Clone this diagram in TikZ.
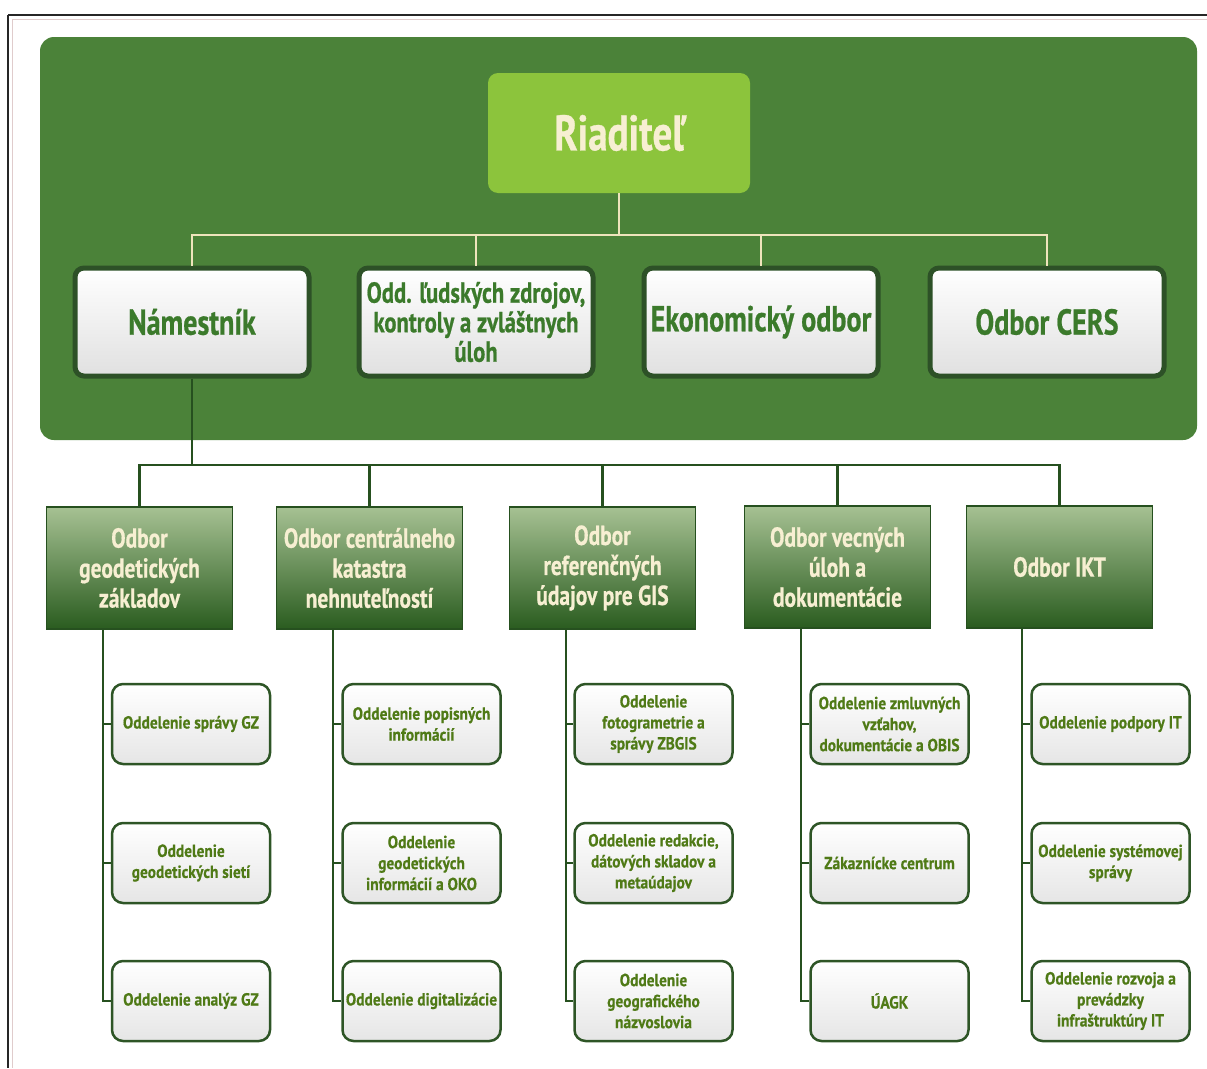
\documentclass[tikz,border=0pt]{standalone}
\usepackage{fontspec}
\setmainfont{PT Sans}
\newfontfamily\condfont[FakeStretch=0.78, BoldFeatures={FakeBold=0.6}]{PT Sans}
\newfontfamily\childfont[FakeStretch=0.88, BoldFeatures={FakeBold=0.5}]{PT Sans}
\usetikzlibrary{calc}
\definecolor{panelgreen}{HTML}{4B8239}
\definecolor{topgreen}{HTML}{8CC43C}
\definecolor{cream}{HTML}{F7EFD2}
\definecolor{creamline}{HTML}{EFE4BC}
\definecolor{boxborder}{HTML}{2D5127}
\definecolor{textgreen}{HTML}{3B7A2B}
\definecolor{deptTop}{HTML}{A6C193}
\definecolor{deptMid}{HTML}{5E8C4B}
\definecolor{deptBot}{HTML}{2A5C1F}
\definecolor{darkline}{HTML}{26501F}
\definecolor{childborder}{HTML}{2E5526}
\definecolor{childtext}{HTML}{4F7A16}
\tikzset{
  topbox/.style={fill=topgreen, rounded corners=10pt, minimum width=262, minimum height=120,
    font=\condfont\bfseries\fontsize{50}{54}\selectfont, text=cream},
  lvlbox/.style={draw=boxborder, line width=5pt, rounded corners=9pt, top color=white,
    bottom color=black!12, minimum width=234, minimum height=108, align=center,
    inner sep=1pt, text=textgreen, font=\condfont\bfseries\fontsize{36}{38}\selectfont},
  deptbox/.style={draw=darkline, line width=1.5pt, top color=deptTop, middle color=deptMid,
    bottom color=deptBot, minimum width=186, minimum height=122, align=center, text=cream,
    inner sep=1pt, font=\condfont\bfseries\fontsize{27.5}{30}\selectfont},
  childbox/.style={draw=childborder, line width=2.5pt, rounded corners=11pt, top color=white,
    bottom color=black!10, minimum width=158, minimum height=80, align=center, inner sep=1pt,
    text=childtext, font=\childfont\bfseries\fontsize{17.5}{21}\selectfont},
  creamconn/.style={draw=creamline, line width=2pt},
  darkconn/.style={draw=darkline, line width=2.5pt},
}
\begin{document}
\begin{tikzpicture}[x=1pt,y=-1pt]
\useasboundingbox (0,0) rectangle (1207,1068);
\fill[white] (0,0) rectangle (1207,1068);
% frame
\draw[black!60!red!20, line width=1pt] (12,19) -- (1207,19);
\draw[black!60!red!20, line width=1pt] (12,19) -- (12,1068);
\draw[black!85, line width=1.5pt] (8,15) -- (1207,15);
\draw[black!85, line width=1.5pt] (8,15) -- (8,1068);
% panel
\fill[panelgreen, rounded corners=14pt] (40,37) rectangle (1197,440);

% top
\node[topbox] (R) at (619,133) {Riaditeľ};
\node[lvlbox] (N) at (192,322) {Námestník};
\node[lvlbox, font=\condfont\bfseries\fontsize{29}{29.5}\selectfont] (O) at (476,322) {Odd. ľudských zdrojov,\\kontroly a zvláštnych\\úloh};
\node[lvlbox] (E) at (761,322) {Ekonomický odbor};
\node[lvlbox] (C) at (1047,322) {Odbor CERS};

\coordinate (hb) at (0,235);
\draw[creamconn] (R.south) -- (R.south |- hb);
\draw[creamconn] (N.north) -- (N.north |- hb) -- (C.north |- hb) -- (C.north);
\draw[creamconn] (O.north) -- (O.north |- hb);
\draw[creamconn] (E.north) -- (E.north |- hb);

% departments
\node[deptbox] (D1) at (139.5,568) {Odbor\\geodetických\\základov};
\node[deptbox] (D2) at (369.5,568) {Odbor centrálneho\\katastra\\nehnuteľností};
\node[deptbox] (D3) at (602.5,568) {Odbor\\referenčných\\údajov pre GIS};
\node[deptbox] (D4) at (837.5,567) {Odbor vecných\\úloh a\\dokumentácie};
\node[deptbox] (D5) at (1059.5,567) {Odbor IKT};

\coordinate (hb2) at (0,465);
\draw[darkconn] (N.south) -- (N.south |- hb2);
\draw[darkconn] (D1.north) -- (D1.north |- hb2) -- (D5.north |- hb2) -- (D5.north);
\draw[darkconn] (D2.north) -- (D2.north |- hb2);
\draw[darkconn] (D3.north) -- (D3.north |- hb2);
\draw[darkconn] (D4.north) -- (D4.north |- hb2);

% children
\node[childbox] (C11) at (191,724) {Oddelenie správy GZ};
\node[childbox] (C12) at (191,863) {Oddelenie\\geodetických sietí};
\node[childbox] (C13) at (191,1001) {Oddelenie analýz GZ};

\node[childbox] (C21) at (421.5,724) {Oddelenie popisných\\informácií};
\node[childbox] (C22) at (421.5,863) {Oddelenie\\geodetických\\informácií a OKO};
\node[childbox] (C23) at (421.5,1001) {Oddelenie digitalizácie};

\node[childbox] (C31) at (653.5,724) {Oddelenie\\fotogrametrie a\\správy ZBGIS};
\node[childbox] (C32) at (653.5,863) {Oddelenie redakcie,\\dátových skladov a\\metaúdajov};
\node[childbox] (C33) at (653.5,1001) {Oddelenie\\geografického\\názvoslovia};

\node[childbox] (C41) at (889.5,724) {Oddelenie zmluvných\\vzťahov,\\dokumentácie a OBIS};
\node[childbox] (C42) at (889.5,863) {Zákaznícke centrum};
\node[childbox] (C43) at (889.5,1001) {ÚAGK};

\node[childbox] (C51) at (1110.5,724) {Oddelenie podpory IT};
\node[childbox] (C52) at (1110.5,863) {Oddelenie systémovej\\správy};
\node[childbox] (C53) at (1110.5,1001) {Oddelenie rozvoja a\\prevádzky\\infraštruktúry IT};

% trunks
\coordinate (t1) at (103,0);
\coordinate (t2) at (333,0);
\coordinate (t3) at (566,0);
\coordinate (t4) at (801,0);
\coordinate (t5) at (1022,0);
\foreach \d in {1,...,5}{
  \draw[darkconn] (D\d.south -| t\d) |- (C\d3.west);
  \draw[darkconn] (t\d |- C\d1.west) -- (C\d1.west);
  \draw[darkconn] (t\d |- C\d2.west) -- (C\d2.west);
}
\end{tikzpicture}
\end{document}
